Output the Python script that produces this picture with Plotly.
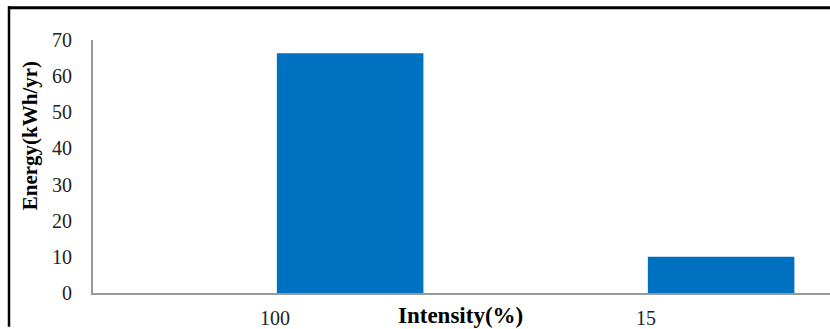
import plotly.graph_objects as go

categories = ["100", "15"]
energy = [66.3, 10.0]
y_ticks = [0, 10, 20, 30, 40, 50, 60, 70]

W, H = 830, 329
L, R, T, B = 93, 0, 40, 34
pw, ph = W - L - R, H - T - B

def px_x(p):
    return (p - L) / pw

def px_y(p):
    return (H - B - p) / ph

fig = go.Figure()
fig.add_trace(go.Bar(
    x=categories, y=energy,
    marker=dict(color="#0070C0", line=dict(width=0)),
    offset=0.005, width=0.395,
    showlegend=False, hoverinfo="skip",
))

fig.update_layout(
    width=W, height=H,
    margin=dict(l=L, r=R, t=T, b=B, pad=0),
    paper_bgcolor="white", plot_bgcolor="white",
    font=dict(family="Liberation Serif", size=20, color="#222"),
    xaxis=dict(
        type="category", range=[-0.4906, 1.496],
        showline=True, linecolor="#999", linewidth=2,
        showgrid=False, zeroline=False, ticks="",
        tickfont=dict(family="Liberation Serif", size=20, color="#222"),
        ticklabelstandoff=6, fixedrange=True,
    ),
    yaxis=dict(
        range=[0, 70], tickvals=y_ticks,
        showline=True, linecolor="#999", linewidth=2,
        showgrid=False, zeroline=False, ticks="",
        tickfont=dict(family="Liberation Serif", size=20, color="#222"),
        ticklabelstandoff=15, fixedrange=True,
    ),
    annotations=[
        dict(text="<b>Energy(kWh/yr)</b>", textangle=-90, xref="paper", yref="paper",
             x=px_x(30), y=px_y(137), xanchor="center", yanchor="middle", showarrow=False,
             font=dict(family="Liberation Serif", size=21, color="black")),
        dict(text="<b>Intensity(%)</b>", xref="paper", yref="paper",
             x=px_x(460), y=px_y(318), xanchor="center", yanchor="middle", showarrow=False,
             font=dict(family="Liberation Serif", size=23, color="black")),
    ],
    shapes=[
        dict(type="line", xref="paper", yref="paper", x0=px_x(8), x1=px_x(830),
             y0=px_y(7.5), y1=px_y(7.5), line=dict(color="black", width=3)),
        dict(type="line", xref="paper", yref="paper", x0=px_x(9), x1=px_x(9),
             y0=px_y(6), y1=px_y(329), line=dict(color="black", width=2.5)),
    ],
)

fig.write_html("out.html", config={"displayModeBar": False})
